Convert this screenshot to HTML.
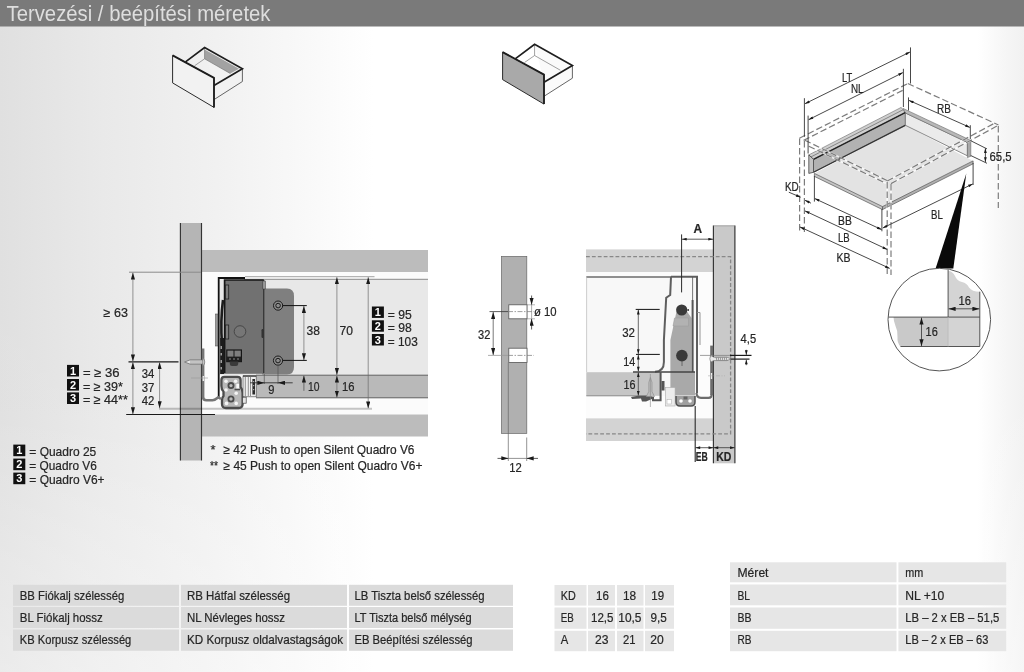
<!DOCTYPE html>
<html><head><meta charset="utf-8">
<style>
html,body{margin:0;padding:0;background:#fff;}
body{width:1024px;height:672px;overflow:hidden;font-family:"Liberation Sans",sans-serif;}
svg{display:block;will-change:transform;filter:grayscale(1)}
text{font-family:"Liberation Sans",sans-serif;fill:#262626;stroke:#262626;stroke-width:0.22px}
.d{stroke:#333;stroke-width:0.8;fill:none}
.dl{stroke:#777;stroke-width:0.8;fill:none}
.ah{fill:#222;stroke:none}
.dash{stroke:#808080;stroke-width:1;fill:none;stroke-dasharray:5 2.5}
</style></head><body>
<svg width="1024" height="672" viewBox="0 0 1024 672">
<defs>
<linearGradient id="bg" x1="0" x2="1" y1="0" y2="0">
<stop offset="0" stop-color="#e0e0e0"/>
<stop offset="0.1" stop-color="#e9e9e9"/>
<stop offset="0.2" stop-color="#f0f0f0"/>
<stop offset="0.29" stop-color="#f8f8f8"/>
<stop offset="0.365" stop-color="#ffffff"/>
<stop offset="0.955" stop-color="#ffffff"/>
<stop offset="0.975" stop-color="#f8f8f8"/>
<stop offset="1" stop-color="#f1f1f1"/>
</linearGradient>
<linearGradient id="bgv" x1="0" x2="0" y1="0" y2="1">
<stop offset="0" stop-color="#fff" stop-opacity="0"/>
<stop offset="0.6" stop-color="#fff" stop-opacity="0.02"/>
<stop offset="0.8" stop-color="#fff" stop-opacity="0.2"/>
<stop offset="1" stop-color="#fff" stop-opacity="0.36"/>
</linearGradient>
<marker id="ar" viewBox="0 0 10 6" refX="10" refY="3" markerWidth="7" markerHeight="4.2" orient="auto-start-reverse" markerUnits="userSpaceOnUse"><path d="M0,0 L10,3 L0,6 z" fill="#1a1a1a"/></marker>
<marker id="as" viewBox="0 0 10 6" refX="10" refY="3" markerWidth="6" markerHeight="2.8" orient="auto-start-reverse" markerUnits="userSpaceOnUse"><path d="M0,0 L10,3 L0,6 z" fill="#1a1a1a"/></marker>
</defs>
<rect x="0" y="0" width="1024" height="672" fill="url(#bg)"/>
<rect x="0" y="0" width="1024" height="672" fill="url(#bgv)"/>
<!-- HEADER -->
<rect x="0" y="0" width="1024" height="26.5" fill="#7a7a7a"/>
<text x="6.5" y="20.5" font-size="21.5" style="fill:#dedede;stroke:none" textLength="264" lengthAdjust="spacingAndGlyphs">Tervezési / beépítési méretek</text>
<!-- TABLES -->
<g id="tables">
<g fill="#dbdbdb">
<rect x="13" y="584.8" width="166" height="21"/><rect x="181" y="584.8" width="166" height="21"/><rect x="349" y="584.8" width="164" height="21"/>
<rect x="13" y="607" width="166" height="21"/><rect x="181" y="607" width="166" height="21"/><rect x="349" y="607" width="164" height="21"/>
<rect x="13" y="629.5" width="166" height="21.3"/><rect x="181" y="629.5" width="166" height="21.3"/><rect x="349" y="629.5" width="164" height="21.3"/>
</g>
<g font-size="13.3">
<text x="19.8" y="599.7" textLength="104.5" lengthAdjust="spacingAndGlyphs">BB Fiókalj szélesség</text>
<text x="19.8" y="621.5" textLength="83" lengthAdjust="spacingAndGlyphs">BL Fiókalj hossz</text>
<text x="19.8" y="643.7" textLength="111.5" lengthAdjust="spacingAndGlyphs">KB Korpusz szélesség</text>
<text x="187" y="599.7" textLength="103" lengthAdjust="spacingAndGlyphs">RB Hátfal szélesség</text>
<text x="187" y="621.5" textLength="98" lengthAdjust="spacingAndGlyphs">NL Névleges hossz</text>
<text x="187" y="643.7" textLength="156" lengthAdjust="spacingAndGlyphs">KD Korpusz oldalvastagságok</text>
<text x="354.5" y="599.7" textLength="130" lengthAdjust="spacingAndGlyphs">LB Tiszta belső szélesség</text>
<text x="354.5" y="621.5" textLength="117" lengthAdjust="spacingAndGlyphs">LT Tiszta belső mélység</text>
<text x="354.5" y="643.7" textLength="118" lengthAdjust="spacingAndGlyphs">EB Beépítési szélesség</text>
</g>
<!-- table 2 -->
<g fill="#e6e6e6">
<rect x="554.5" y="585" width="32" height="20.6"/><rect x="588" y="585" width="27" height="20.6"/><rect x="617" y="585" width="26.5" height="20.6"/><rect x="645" y="585" width="29" height="20.6"/>
<rect x="554.5" y="607.5" width="32" height="21.3"/><rect x="588" y="607.5" width="27" height="21.3"/><rect x="617" y="607.5" width="26.5" height="21.3"/><rect x="645" y="607.5" width="29" height="21.3"/>
<rect x="554.5" y="630.8" width="32" height="20.4"/><rect x="588" y="630.8" width="27" height="20.4"/><rect x="617" y="630.8" width="26.5" height="20.4"/><rect x="645" y="630.8" width="29" height="20.4"/>
</g>
<g font-size="13.3">
<text x="560.8" y="599.7" textLength="15" lengthAdjust="spacingAndGlyphs">KD</text>
<text x="560.8" y="621.8" textLength="13" lengthAdjust="spacingAndGlyphs">EB</text>
<text x="560.8" y="643.9" textLength="7.5" lengthAdjust="spacingAndGlyphs">A</text>
<text x="596" y="599.7" textLength="12.8" lengthAdjust="spacingAndGlyphs">16</text>
<text x="623" y="599.7" textLength="13.2" lengthAdjust="spacingAndGlyphs">18</text>
<text x="651.3" y="599.7" textLength="12.8" lengthAdjust="spacingAndGlyphs">19</text>
<text x="591" y="621.8" textLength="22.5" lengthAdjust="spacingAndGlyphs">12,5</text>
<text x="618.3" y="621.8" textLength="23.2" lengthAdjust="spacingAndGlyphs">10,5</text>
<text x="650.4" y="621.8" textLength="16.3" lengthAdjust="spacingAndGlyphs">9,5</text>
<text x="595" y="643.9" textLength="13.5" lengthAdjust="spacingAndGlyphs">23</text>
<text x="623" y="643.9" textLength="12.5" lengthAdjust="spacingAndGlyphs">21</text>
<text x="650.3" y="643.9" textLength="13.5" lengthAdjust="spacingAndGlyphs">20</text>
</g>
<!-- table 3 -->
<g fill="#e6e6e6">
<rect x="730" y="562.3" width="166.5" height="20"/><rect x="898.4" y="562.3" width="107.8" height="20"/>
<rect x="730" y="584.5" width="166.5" height="20.8"/><rect x="898.4" y="584.5" width="107.8" height="20.8"/>
<rect x="730" y="607.5" width="166.5" height="21.3"/><rect x="898.4" y="607.5" width="107.8" height="21.3"/>
<rect x="730" y="630.8" width="166.5" height="20.4"/><rect x="898.4" y="630.8" width="107.8" height="20.4"/>
</g>
<g font-size="13.3">
<text x="737.5" y="577" textLength="31" lengthAdjust="spacingAndGlyphs">Méret</text>
<text x="737.5" y="599.7" textLength="12.5" lengthAdjust="spacingAndGlyphs">BL</text>
<text x="737.5" y="621.8" textLength="14" lengthAdjust="spacingAndGlyphs">BB</text>
<text x="737.5" y="643.9" textLength="14" lengthAdjust="spacingAndGlyphs">RB</text>
<text x="905.3" y="577" textLength="18" lengthAdjust="spacingAndGlyphs">mm</text>
<text x="905.3" y="599.7" textLength="39" lengthAdjust="spacingAndGlyphs">NL +10</text>
<text x="905.3" y="621.8" textLength="94" lengthAdjust="spacingAndGlyphs">LB – 2 x EB – 51,5</text>
<text x="905.3" y="643.9" textLength="83" lengthAdjust="spacingAndGlyphs">LB – 2 x EB – 63</text>
</g>
</g>

<!-- LEFT CROSS SECTION -->
<g id="leftsec">
<!-- cabinet bands -->
<rect x="201.6" y="250" width="226.4" height="22" fill="#bcbcbc"/>
<rect x="201.6" y="414" width="226.4" height="22.5" fill="#bcbcbc"/>
<!-- white gap areas -->
<rect x="201.6" y="272" width="226.4" height="142.5" fill="#fbfbfb"/>
<!-- drawer interior -->
<rect x="219" y="279.3" width="209" height="96" fill="#e8e8e8"/>
<line x1="244" y1="279.3" x2="428" y2="279.3" stroke="#8a8a8a" stroke-width="1"/>
<!-- drawer bottom -->
<rect x="256" y="375.2" width="172" height="22.6" fill="#b9b9b9"/>
<line x1="256" y1="375.2" x2="428" y2="375.2" stroke="#555" stroke-width="0.9"/>
<line x1="256" y1="397.8" x2="428" y2="397.8" stroke="#555" stroke-width="0.9"/>
<!-- lower light line -->
<!-- vertical panel -->
<rect x="180.3" y="223" width="21.3" height="237.5" fill="#b5b5b5"/>
<line x1="180.4" y1="223" x2="180.4" y2="460.5" stroke="#333" stroke-width="1.15"/>
<line x1="201.5" y1="223" x2="201.5" y2="460.5" stroke="#333" stroke-width="1.15"/>
<line x1="159" y1="408.8" x2="372" y2="408.8" stroke="#000" stroke-opacity="0.22" stroke-width="1.9"/>
<!-- L line -->
<path d="M218.7,397 V278 H245" stroke="#111" stroke-width="1.8" fill="none"/>
<!-- plate -->
<path d="M262,288.5 H287 Q294,288.5 294,296 V367 Q294,374.5 287,374.5 H262 Z" fill="#7f7f7f"/>
<!-- dark box -->
<rect x="224.4" y="280" width="39.4" height="93.8" fill="#717171"/>
<path d="M224.6,373 V280 H263.8" stroke="#161616" stroke-width="1.7" fill="none"/>
<path d="M263.8,280 V373" stroke="#222" stroke-width="1" fill="none"/>
<rect x="225.5" y="285" width="3.2" height="14" fill="#7c7c7c" stroke="#222" stroke-width="0.8"/>
<rect x="225.5" y="325" width="3.2" height="14" fill="#7c7c7c" stroke="#222" stroke-width="0.8"/>
<path d="M223,300 Q220.3,320 222,345" stroke="#1c1c1c" stroke-width="2.6" fill="none"/>
<rect x="215.5" y="314" width="2.4" height="32" fill="#9a9a9a" stroke="#444" stroke-width="0.5"/>
<circle cx="240" cy="331.5" r="5.8" fill="#767676" stroke="#3c3c3c" stroke-width="0.8"/>
<rect x="261.5" y="329" width="2.5" height="9" rx="1.2" fill="#333"/>
<rect x="262.8" y="281" width="2.6" height="8" fill="#999" stroke="#333" stroke-width="0.5"/>
<!-- small mechanism inside box bottom -->
<g>
<rect x="226.8" y="350" width="14.6" height="11.6" fill="#7e7e7e" stroke="#161616" stroke-width="1.2"/>
<path d="M234,350 V357" stroke="#161616" stroke-width="1"/>
<rect x="226.8" y="356.6" width="14.6" height="5" fill="#1e1e1e"/>
<path d="M229,359 h2 M233,359 h2 M237,359 h2" stroke="#999" stroke-width="0.9"/>
<path d="M229.8,361.6 V364 Q229.8,366 232,366 H236 Q238.2,366 238.2,364 V361.6 Z" fill="#3a3a3a"/>
</g>
<path d="M222.2,338 V374" stroke="#1c1c1c" stroke-width="4.2"/>
<path d="M221.2,346 v3 M221.2,353 v2.5 M221.2,360 v3 M221.2,367 v2.5" stroke="#ddd" stroke-width="1"/>
<!-- screws on plate -->
<g>
<circle cx="278.1" cy="305.6" r="4.6" fill="#8c8c8c" stroke="#1a1a1a" stroke-width="1"/>
<circle cx="278.1" cy="305.6" r="2.3" fill="none" stroke="#1a1a1a" stroke-width="1"/>
<circle cx="278" cy="360.6" r="4.6" fill="#8c8c8c" stroke="#1a1a1a" stroke-width="1"/>
<circle cx="278" cy="360.6" r="2.3" fill="none" stroke="#1a1a1a" stroke-width="1"/>
</g>
<!-- runner -->
<g>
<path d="M224.5,376.8 H237.5 Q240.6,376.8 240.6,380 V387 Q242.6,389.5 242.6,393 V404 Q242.6,408 238.6,408 H226 Q222,408 222,404 V400 Q222,397.5 223.5,396 V391.5 Q221.4,389.5 221.4,386 V380 Q221.4,376.8 224.5,376.8 Z" fill="#b8b8b8" stroke="#4c4c4c" stroke-width="2.3"/>
<circle cx="226" cy="381.3" r="1.8" fill="#f4f4f4"/><circle cx="235.6" cy="381.3" r="1.8" fill="#f4f4f4"/>
<circle cx="226" cy="390" r="1.8" fill="#f4f4f4"/><circle cx="236.2" cy="393.3" r="1.8" fill="#f4f4f4"/>
<circle cx="226.5" cy="403.4" r="1.8" fill="#f4f4f4"/><circle cx="236.2" cy="403.4" r="1.8" fill="#f4f4f4"/>
<circle cx="231" cy="385.6" r="2.6" fill="#bbb" stroke="#4a4a4a" stroke-width="1.8"/>
<circle cx="231" cy="399" r="2.6" fill="#bbb" stroke="#4a4a4a" stroke-width="1.8"/>
<path d="M234.5,389.5 H240" stroke="#4c4c4c" stroke-width="1.6"/>
<rect x="236.3" y="383.8" width="2.8" height="4.6" fill="#f8f8f8"/>
</g>
<!-- piece between runner and drawer bottom -->
<g>
<rect x="243" y="376" width="13.2" height="20.8" fill="#efefef" stroke="#555" stroke-width="0.7"/>
<path d="M245.3,377 V396 M248.3,377 V396 M250.5,377 V396" stroke="#666" stroke-width="0.7"/>
<rect x="252.4" y="379" width="2.6" height="15.5" fill="#2a2a2a"/>
<path d="M253.7,381 v1.2 M253.7,385 v1.2 M253.7,389 v1.2" stroke="#ddd" stroke-width="0.9"/>
<path d="M243,376 H256.2" stroke="#222" stroke-width="1.1"/>
<rect x="242.6" y="397.2" width="3.6" height="6" fill="#e4e4e4" stroke="#444" stroke-width="0.7"/>
</g>
<!-- bracket -->
<path d="M203.1,348.5 V397 Q203.1,400.2 206.5,400.2 H212.5 Q215,400.2 216.3,398.6 L218.3,397.2 L221,399" stroke="#757575" stroke-width="2.6" fill="none"/>
<path d="M203.3,358.5 V365.5 M203.3,376 V381" stroke="#f2f2f2" stroke-width="1.3"/>
<!-- screw in panel -->
<g>
<path d="M184.6,362 L190,359.9 H203 V364.1 H190 Z" fill="#e4e4e4" stroke="#666" stroke-width="0.7"/>
<path d="M191,360.2 V363.8 M193,360.2 V363.8 M195,360.2 V363.8 M197,360.2 V363.8 M199,360.2 V363.8 M201,360.2 V363.8" stroke="#777" stroke-width="0.6"/>
<path d="M203,358 Q206.5,362 203,366 Z" fill="#f4f4f4" stroke="#666" stroke-width="0.7"/>
<line x1="191" y1="378" x2="208" y2="378" stroke="#999" stroke-width="0.6"/>
</g>
</g>

<!-- LEFT DIMENSIONS -->
<g id="leftdim">
<!-- ext lines -->
<line x1="129" y1="272.2" x2="201" y2="272.2" stroke="#8a8a8a" stroke-width="1"/>
<line x1="128.5" y1="361.8" x2="178.5" y2="361.8" stroke="#1a1a1a" stroke-width="1.2"/>
<line x1="126.2" y1="414.5" x2="215" y2="414.5" stroke="#1a1a1a" stroke-width="1.2"/>
<line x1="245" y1="276.7" x2="374.5" y2="276.7" stroke="#8a8a8a" stroke-width="0.8"/>
<g stroke="#6a6a6a" stroke-width="0.7" marker-start="url(#ar)" marker-end="url(#ar)">
<line x1="132.9" y1="272.6" x2="132.9" y2="361.4"/>
<line x1="132.9" y1="362.2" x2="132.9" y2="414.2"/>
<line x1="159.6" y1="362.2" x2="159.6" y2="408.2"/>
<line x1="303.9" y1="305.9" x2="303.9" y2="360.2"/>
<line x1="336.9" y1="277.2" x2="336.9" y2="375"/>
<line x1="336.9" y1="375.6" x2="336.9" y2="397.6"/>
<line x1="368.2" y1="277.2" x2="368.2" y2="408.4"/>
</g>
<line x1="303.9" y1="390.8" x2="303.9" y2="375.6" stroke="#555" stroke-width="0.8" marker-end="url(#ar)"/>
<!-- screw leader lines -->
<line x1="282.5" y1="305.6" x2="306.8" y2="305.6" stroke="#111" stroke-width="1"/>
<line x1="282.5" y1="360.4" x2="306.8" y2="360.4" stroke="#111" stroke-width="1"/>
<!-- 9 dim -->
<line x1="264.3" y1="374" x2="264.3" y2="384" stroke="#555" stroke-width="0.7"/>
<line x1="278" y1="365" x2="278" y2="384" stroke="#555" stroke-width="0.7"/>
<line x1="250" y1="382.8" x2="264.3" y2="382.8" stroke="#333" stroke-width="0.9" marker-end="url(#ar)"/>
<line x1="292.7" y1="382.8" x2="278" y2="382.8" stroke="#333" stroke-width="0.9" marker-end="url(#ar)"/>
<line x1="264" y1="382.8" x2="278" y2="382.8" stroke="#333" stroke-width="0.9"/>
<!-- texts -->
<g font-size="12.6">
<text x="103.6" y="317.4" textLength="24.3" lengthAdjust="spacingAndGlyphs">≥ 63</text>
<text x="141.8" y="378.1" textLength="12.6" lengthAdjust="spacingAndGlyphs">34</text>
<text x="141.8" y="391.5" textLength="12.6" lengthAdjust="spacingAndGlyphs">37</text>
<text x="141.8" y="405" textLength="12.6" lengthAdjust="spacingAndGlyphs">42</text>
<text x="306.6" y="334.5" textLength="13.4" lengthAdjust="spacingAndGlyphs">38</text>
<text x="339.6" y="334.5" textLength="13.4" lengthAdjust="spacingAndGlyphs">70</text>
<text x="308" y="391" textLength="11.5" lengthAdjust="spacingAndGlyphs">10</text>
<text x="342" y="391" textLength="12.5" lengthAdjust="spacingAndGlyphs">16</text>
<text x="268.3" y="394.3" textLength="6.2" lengthAdjust="spacingAndGlyphs">9</text>
<text x="387.8" y="318.6" textLength="24" lengthAdjust="spacingAndGlyphs">= 95</text>
<text x="387.8" y="332.3" textLength="24" lengthAdjust="spacingAndGlyphs">= 98</text>
<text x="387.8" y="346.2" textLength="30" lengthAdjust="spacingAndGlyphs">= 103</text>
<text x="82.9" y="377.1" textLength="36.7" lengthAdjust="spacingAndGlyphs">= ≥ 36</text>
<text x="82.9" y="390.8" textLength="40" lengthAdjust="spacingAndGlyphs">= ≥ 39*</text>
<text x="82.9" y="404.3" textLength="45" lengthAdjust="spacingAndGlyphs">= ≥ 44**</text>
<text x="29.3" y="456" textLength="67" lengthAdjust="spacingAndGlyphs">= Quadro 25</text>
<text x="29.3" y="470" textLength="67.5" lengthAdjust="spacingAndGlyphs">= Quadro V6</text>
<text x="29.3" y="484" textLength="75.3" lengthAdjust="spacingAndGlyphs">= Quadro V6+</text>
<text x="210.5" y="453.5" textLength="5" lengthAdjust="spacingAndGlyphs">*</text>
<text x="223.5" y="453.5" textLength="191" lengthAdjust="spacingAndGlyphs">≥ 42 Push to open Silent Quadro V6</text>
<text x="210" y="469.5" textLength="8" lengthAdjust="spacingAndGlyphs">**</text>
<text x="223.5" y="469.5" textLength="199" lengthAdjust="spacingAndGlyphs">≥ 45 Push to open Silent Quadro V6+</text>
</g>
<!-- numbered squares -->
<g fill="#111">
<rect x="371.9" y="306.5" width="12" height="11.4"/><rect x="371.9" y="320.3" width="12" height="11.4"/><rect x="371.9" y="334" width="12" height="11.5"/>
<rect x="67" y="364.9" width="12" height="11.6"/><rect x="67" y="379" width="12" height="11.6"/><rect x="67" y="392.4" width="12" height="11.6"/>
<rect x="13.3" y="444.6" width="12" height="11.6"/><rect x="13.3" y="458.6" width="12" height="11.6"/><rect x="13.3" y="472.6" width="12" height="11.6"/>
</g>
<g font-size="11" font-weight="bold" text-anchor="middle" style="fill:#fff;stroke:none">
<text x="377.9" y="316.2" style="fill:#fff;stroke:none">1</text><text x="377.9" y="330" style="fill:#fff;stroke:none">2</text><text x="377.9" y="343.8" style="fill:#fff;stroke:none">3</text>
<text x="73" y="374.7" style="fill:#fff;stroke:none">1</text><text x="73" y="388.8" style="fill:#fff;stroke:none">2</text><text x="73" y="402.2" style="fill:#fff;stroke:none">3</text>
<text x="19.3" y="454.4" style="fill:#fff;stroke:none">1</text><text x="19.3" y="468.4" style="fill:#fff;stroke:none">2</text><text x="19.3" y="482.4" style="fill:#fff;stroke:none">3</text>
</g>
</g>

<!-- MIDDLE PANEL -->
<g id="mid">
<rect x="501.5" y="256.4" width="25.3" height="177" fill="#b0b0b0" stroke="#666" stroke-width="0.7"/>
<rect x="508.8" y="304.8" width="18.2" height="14" fill="#fff" stroke="#555" stroke-width="0.8"/>
<rect x="508.8" y="348.2" width="18.2" height="14.3" fill="#fff" stroke="#555" stroke-width="0.8"/>
<line x1="489.5" y1="311.6" x2="508" y2="311.6" stroke="#333" stroke-width="0.8"/>
<line x1="508" y1="311.6" x2="534" y2="311.6" stroke="#777" stroke-width="0.7" stroke-dasharray="5 1.5 1.5 1.5"/>
<line x1="488" y1="355.4" x2="508" y2="355.4" stroke="#999" stroke-width="0.8"/>
<line x1="508" y1="355.4" x2="534" y2="355.4" stroke="#777" stroke-width="0.7" stroke-dasharray="5 1.5 1.5 1.5"/>
<line x1="493.2" y1="312" x2="493.2" y2="355" stroke="#555" stroke-width="0.8" marker-start="url(#ar)" marker-end="url(#ar)"/>
<!-- dia 10 -->
<line x1="527" y1="304.8" x2="535" y2="304.8" stroke="#888" stroke-width="0.6"/>
<line x1="527" y1="318.8" x2="535" y2="318.8" stroke="#888" stroke-width="0.6"/>
<line x1="531.6" y1="295.5" x2="531.6" y2="304.8" stroke="#333" stroke-width="0.8" marker-end="url(#ar)"/>
<line x1="531.6" y1="329.5" x2="531.6" y2="318.8" stroke="#333" stroke-width="0.8" marker-end="url(#ar)"/>
<line x1="531.6" y1="304.8" x2="531.6" y2="318.8" stroke="#888" stroke-width="0.7"/>
<!-- 12 -->
<line x1="508.3" y1="362.5" x2="508.3" y2="461" stroke="#666" stroke-width="0.7"/>
<line x1="526.7" y1="437.5" x2="526.7" y2="461" stroke="#666" stroke-width="0.7"/>
<line x1="497.5" y1="458.4" x2="508.3" y2="458.4" stroke="#333" stroke-width="0.8" marker-end="url(#ar)"/>
<line x1="538" y1="458.4" x2="526.7" y2="458.4" stroke="#333" stroke-width="0.8" marker-end="url(#ar)"/>
<line x1="508.3" y1="458.4" x2="526.7" y2="458.4" stroke="#666" stroke-width="0.7"/>
<g font-size="12.6">
<text x="478" y="339.3" textLength="12.3" lengthAdjust="spacingAndGlyphs">32</text>
<text x="534" y="315.6" textLength="22.6" lengthAdjust="spacingAndGlyphs">ø 10</text>
<text x="509.3" y="472.4" textLength="12.5" lengthAdjust="spacingAndGlyphs">12</text>
</g>
</g>

<!-- RIGHT CROSS SECTION -->
<g id="rightsec">
<rect x="586" y="249.4" width="127.3" height="22.6" fill="#d3d3d3"/>
<rect x="586" y="418.2" width="127.3" height="22.8" fill="#d3d3d3"/>
<rect x="586" y="272" width="127.3" height="146.2" fill="#fcfcfc"/>
<rect x="586" y="277" width="111" height="119" fill="#f8f8f8"/>
<!-- right vertical panel -->
<rect x="713.3" y="225.6" width="21.8" height="237.7" fill="#c9c9c9"/>
<line x1="713.4" y1="225.6" x2="713.4" y2="463.3" stroke="#333" stroke-width="1.15"/>
<line x1="734.9" y1="225.6" x2="734.9" y2="463.3" stroke="#333" stroke-width="1.15"/>
<line x1="713.4" y1="225.8" x2="734.9" y2="225.8" stroke="#8a8a8a" stroke-width="0.7"/>
<!-- dashed -->
<path d="M586,256.6 H730.6 V433.8 H586" fill="none" stroke-dasharray="3.8 2.1" style="stroke:#888;stroke-width:1.3"/>
<!-- drawer bottom -->
<rect x="586.3" y="372.2" width="74.3" height="23.6" fill="#c5c5c5"/>
<line x1="586.3" y1="395.8" x2="652" y2="395.8" stroke="#777" stroke-width="0.8"/>
<!-- drawer outline top -->
<line x1="586.3" y1="276.9" x2="671" y2="276.9" stroke="#6c6c6c" stroke-width="1.5"/>
<line x1="586.6" y1="277" x2="586.6" y2="372" stroke="#bbb" stroke-width="0.7"/>
<!-- body -->
<path d="M676.5,311.5 Q681.5,304 687,311.5 L691.5,318 V372 H695 V395.5 H670.4 V340 Z" fill="#a9a9a9"/>
<path d="M674.5,318 H688.5 V326 H673 Z" fill="#b2b2b2" stroke="#999" stroke-width="0.5"/>
<!-- profile outline -->
<path d="M671,276.7 H697 V393" stroke="#5e5e5e" stroke-width="2" fill="none"/>
<path d="M671,276.7 L670.2,295 L666.2,297.8 L663.9,340 V362 Q663.9,371.5 655,371.8" stroke="#5e5e5e" stroke-width="2" fill="none"/>
<line x1="692.6" y1="277" x2="692.6" y2="300" stroke="#555" stroke-width="0.8"/>
<line x1="692.6" y1="300" x2="692.6" y2="372" stroke="#555" stroke-width="2"/>
<path d="M697,312.5 H700 V345" stroke="#8a8a8a" stroke-width="0.9" fill="none"/>
<!-- horizontal dark line -->
<line x1="633" y1="371.9" x2="695" y2="371.9" stroke="#444" stroke-width="1.5"/>
<!-- screw heads -->
<circle cx="681.7" cy="310" r="5.6" fill="#3a3a3a"/>
<circle cx="681.9" cy="355.6" r="5.8" fill="#3a3a3a"/>
<path d="M686,310 l3,-1 v2 z" fill="#333"/>
<line x1="682" y1="361" x2="682" y2="366" stroke="#555" stroke-width="0.8"/>
<!-- drawer bottom end/hook -->
<path d="M660.6,372 V400.3 H653 V397" stroke="#555" stroke-width="2" fill="none"/>
<rect x="661.5" y="381" width="3" height="9.5" fill="#555"/>
<path d="M631,397 L638,395.8 H652 V399 L646,401.5 H642 L641,398.5 L632,399 Z" fill="#555"/>
<!-- small screw in bottom -->
<path d="M650.4,377.5 l-1.6,5 v9 l-2.5,5 h8.2 l-2.5,-5 v-9 z" fill="#bdbdbd" stroke="#8a8a8a" stroke-width="0.6"/>
<line x1="650.4" y1="374" x2="650.4" y2="407" stroke="#8a8a8a" stroke-width="0.6"/>
<!-- runner -->
<rect x="665.6" y="387.5" width="9.5" height="18.5" fill="#ececec" stroke="#aaa" stroke-width="0.6"/>
<rect x="667" y="399.5" width="4.5" height="4.5" fill="#fff" stroke="#aaa" stroke-width="0.5"/>
<path d="M676,396 V402 Q676,406 680,406 H691 Q695,406 695,402 V396" fill="#a0a0a0" stroke="#505050" stroke-width="1.5"/>
<circle cx="681" cy="401" r="1.8" fill="#fff"/><circle cx="690" cy="401" r="1.8" fill="#fff"/>
<rect x="683.5" y="396.5" width="4" height="3" fill="#666"/>
<!-- right bracket -->
<path d="M696.5,393 Q696.8,397.8 701,397.9 H708.5 Q711.8,397.8 711.8,394" stroke="#6c6c6c" stroke-width="2.2" fill="none"/>
<path d="M711.7,395 V345.6" stroke="#6c6c6c" stroke-width="3" fill="none"/>
<line x1="711.5" y1="355" x2="711.5" y2="362" stroke="#eee" stroke-width="1.3"/>
<line x1="711.5" y1="373" x2="711.5" y2="379" stroke="#eee" stroke-width="1.3"/>
<!-- screw into panel -->
<path d="M710.6,355.6 Q709,358.7 710.6,361.9 L714,360.6 H727 L731,358.9 L727,357.2 H714 Z" fill="#eaeaea" stroke="#666" stroke-width="0.6"/>
<path d="M716,357.2 l1,3.4 M718,357.2 l1,3.4 M720,357.2 l1,3.4 M722,357.2 l1,3.4 M724,357.2 l1,3.4 M726,357.2 l1,3.4" stroke="#555" stroke-width="0.6"/>
<line x1="708" y1="375.8" x2="725" y2="375.8" stroke="#aaa" stroke-width="0.6" stroke-dasharray="4 1.5 1 1.5"/>
</g>
<!-- RIGHT DIMS -->
<g id="rightdim">
<line x1="681.6" y1="234.4" x2="681.6" y2="292.4" stroke="#2a2a2a" stroke-width="1"/>
<line x1="682" y1="239.2" x2="713" y2="239.2" stroke="#333" stroke-width="0.8" marker-start="url(#as)" marker-end="url(#as)"/>
<line x1="635.7" y1="309.4" x2="659.7" y2="309.4" stroke="#111" stroke-width="1"/>
<line x1="636" y1="354.4" x2="659.8" y2="354.4" stroke="#111" stroke-width="1"/>
<g stroke="#444" stroke-width="0.8" marker-start="url(#as)" marker-end="url(#as)">
<line x1="638.3" y1="309.8" x2="638.3" y2="354"/>
<line x1="638.3" y1="354.8" x2="638.3" y2="371.4"/>
<line x1="638.3" y1="372.4" x2="638.3" y2="395.6"/>
</g>
<!-- 4,5 -->
<line x1="700" y1="355.4" x2="731" y2="355.4" stroke="#777" stroke-width="0.7"/>
<line x1="730" y1="355.4" x2="751.5" y2="355.4" stroke="#1a1a1a" stroke-width="1.2"/>
<line x1="730.5" y1="359.1" x2="749.5" y2="359.1" stroke="#1a1a1a" stroke-width="1.2"/>
<line x1="746.3" y1="349.8" x2="746.3" y2="354.9" stroke="#333" stroke-width="0.8" marker-end="url(#as)"/>
<line x1="746.3" y1="365.2" x2="746.3" y2="359.7" stroke="#333" stroke-width="0.8" marker-end="url(#as)"/>
<!-- EB KD -->
<line x1="695.2" y1="406" x2="695.2" y2="462" stroke="#2a2a2a" stroke-width="1.1"/>
<line x1="695.5" y1="447.7" x2="713.2" y2="447.7" stroke="#333" stroke-width="0.8" marker-start="url(#as)" marker-end="url(#as)"/>
<line x1="713.6" y1="447.7" x2="734.7" y2="447.7" stroke="#333" stroke-width="0.8" marker-start="url(#as)" marker-end="url(#as)"/>
<g font-size="12.6">
<text x="693.6" y="232.9" font-weight="bold" textLength="8.6" lengthAdjust="spacingAndGlyphs">A</text>
<text x="622.2" y="336.5" textLength="12.8" lengthAdjust="spacingAndGlyphs">32</text>
<text x="623.2" y="365.8" textLength="12" lengthAdjust="spacingAndGlyphs">14</text>
<text x="623.5" y="388.6" textLength="12" lengthAdjust="spacingAndGlyphs">16</text>
<text x="740.6" y="343.3" textLength="15.5" lengthAdjust="spacingAndGlyphs">4,5</text>
<text x="695.8" y="460.8" font-weight="bold" textLength="12" lengthAdjust="spacingAndGlyphs">EB</text>
<text x="716.2" y="460.8" font-weight="bold" textLength="15.2" lengthAdjust="spacingAndGlyphs">KD</text>
</g>
</g>

<!-- DRAWER ICONS -->
<g id="icon1">
<path d="M204.6,47.4 L242.4,68.8 V81.5 L214,99.6 V85.5 Z" fill="#f2f2f2"/>
<path d="M204.6,49.5 L239,68.8 L230.3,73.5 L204.6,58.8 Z" fill="#a2a2a2"/>
<path d="M204.6,58.8 L194.5,65.8 M204.6,58.8 L230.3,73.5 M204.6,48 V58.8" stroke="#777" stroke-width="0.7" fill="none"/>
<path d="M242.4,68.8 V81.5 L214,99.6" stroke="#555" stroke-width="0.9" fill="none"/>
<path d="M185.5,61.9 L204.6,47.6 L242.4,68.8 L214,85.5" stroke="#1e1e1e" stroke-width="1.7" fill="none" stroke-linejoin="miter"/>
<path d="M172.6,55.4 L214,77.9 V107.4 L172.6,82.9 Z" fill="#f2f2f2" stroke="#2a2a2a" stroke-width="1"/>
<path d="M172.6,55.4 L214,77.9 V107.4" stroke="#1e1e1e" stroke-width="1.8" fill="none"/>
</g>
<g id="icon2" transform="translate(330,-3.3)">
<path d="M204.6,47.4 L242.4,68.8 V81.5 L214,99.6 V85.5 Z" fill="#fafafa"/>
<path d="M204.6,58.8 L194.5,65.8 M204.6,58.8 L230.3,73.5 M204.6,48 V58.8" stroke="#777" stroke-width="0.7" fill="none"/>
<path d="M242.4,68.8 V81.5 L214,99.6" stroke="#555" stroke-width="0.9" fill="none"/>
<path d="M185.5,61.9 L204.6,47.6 L242.4,68.8 L214,85.5" stroke="#1e1e1e" stroke-width="1.7" fill="none" stroke-linejoin="miter"/>
<path d="M172.6,55.4 L214,77.9 V107.4 L172.6,82.9 Z" fill="#a9a9a9" stroke="#2a2a2a" stroke-width="1"/>
<path d="M172.6,55.4 L214,77.9 V107.4" stroke="#1e1e1e" stroke-width="1.8" fill="none"/>
</g>
<!-- ISOMETRIC -->
<g id="iso">
<!-- drawer bottom -->
<path d="M905.2,125.2 L973.1,160.9 L882.5,206.6 L814.4,173.4 Z" fill="#e3e3e3"/>
<path d="M814.4,173.4 L882.5,206.6 V209.6 L814.4,176.4 Z" fill="#c4c4c4" stroke="#555" stroke-width="0.7"/>
<path d="M882.5,206.6 L973.1,160.9 V163.8 L882.5,209.6 Z" fill="#b0b0b0" stroke="#555" stroke-width="0.7"/>
<!-- back panel -->
<path d="M905.2,112.9 L967.4,142.4 V155.8 L905.2,125.2 Z" fill="#ebebeb" stroke="#5a5a5a" stroke-width="0.7"/>
<path d="M903,108.4 L969.8,139.9 L967.4,142.4 L905.2,112.9 Z" fill="#b8b8b8" stroke="#666" stroke-width="0.6"/>
<path d="M967.4,142.4 L970.8,140.3 V156.3 L967.4,157.6 Z" fill="#a8a8a8" stroke="#666" stroke-width="0.6"/>
<!-- left side bar -->
<path d="M813.5,159.3 L905.2,112.6 V125.4 L813.5,172.3 Z" fill="#b2b2b2" stroke="#666" stroke-width="0.6"/>
<path d="M808.8,154.9 L901.2,107.4 L905.2,112.6 L813.5,159.3 Z" fill="#cfcfcf" stroke="#666" stroke-width="0.6"/>
<path d="M811,156.9 L903,109.8" stroke="#666" stroke-width="0.7"/>
<path d="M813.5,159.3 L905.2,112.6" stroke="#222" stroke-width="1.3"/>
<path d="M813.5,172.3 L905.2,125.4" stroke="#333" stroke-width="1.2"/>
<path d="M808.8,154.9 L813.5,159.3 V172.3 L808.8,173.4 Z" fill="#c4c4c4" stroke="#444" stroke-width="0.8"/>
<!-- dashed cabinet -->
<g stroke="#fff" stroke-width="1.8" fill="none" opacity="0.75">
<path d="M799.4,138.2 L907.8,83.5"/>
<path d="M803.6,140.4 L903,90.2"/>
<path d="M907.8,83.5 L998.5,125"/>
<path d="M887.2,181 L994.5,123.2"/>
<path d="M891,183.6 L998.5,125.2"/>
<path d="M804.8,140.2 L887,180.5"/>
<path d="M808.8,146.2 L885.8,183.2"/>
<path d="M799.6,138.5 V233"/>
<path d="M804.4,141 V232"/>
<path d="M887.2,182 V275"/>
<path d="M891,184 V275"/>
<path d="M998.3,126 V208"/>
</g>
<g stroke="#7c7c7c" stroke-width="1.2" fill="none" stroke-dasharray="6.5 3">
<path d="M799.4,138.2 L907.8,83.5"/>
<path d="M803.6,140.4 L903,90.2"/>
<path d="M907.8,83.5 L998.5,125"/>
<path d="M887.2,181 L994.5,123.2"/>
<path d="M891,183.6 L998.5,125.2"/>
<path d="M804.8,140.2 L887,180.5"/>
<path d="M808.8,146.2 L885.8,183.2"/>
<path d="M799.6,138.5 V233"/>
<path d="M804.4,141 V232"/>
<path d="M887.2,182 V275"/>
<path d="M891,184 V275"/>
<path d="M998.3,126 V208"/>
</g>
<!-- dim lines -->
<g stroke="#333" stroke-width="0.9" fill="none">
<path d="M804.4,98.2 V136.8 M910.5,47.4 V83.5 M808.1,115.6 V153.5 M903.4,68.8 V107 M908.5,97.4 V110.5 M970.3,125.2 V139.1 M970.7,140.7 L987,148.9 M970.7,155.5 L987,163.3 M814.4,176 V201.6 M881.9,209 V231.3 M973.1,163 V185"/>
<g marker-start="url(#as)" marker-end="url(#as)">
<path d="M805,103.7 L910,52"/>
<path d="M808.6,119.7 L902.9,72.6"/>
<path d="M909,100.4 L969.9,127.4"/>
<path d="M985.4,148.3 V162"/>
<path d="M814.8,198.6 L881.6,229.6"/>
<path d="M805,210.9 L887.2,249.4"/>
<path d="M799.9,226.9 L889.7,268.4"/>
<path d="M882.8,228 L972.8,183.9"/>
</g>
<path d="M788.8,192.2 L800.6,197.2" marker-end="url(#as)"/>
<path d="M811,203.2 L805,200.3" marker-end="url(#as)"/>
</g>
<g font-size="12.6">
<text x="842" y="82" textLength="10.2" lengthAdjust="spacingAndGlyphs">LT</text>
<text x="851" y="93.2" textLength="12.6" lengthAdjust="spacingAndGlyphs">NL</text>
<text x="937.1" y="112.6" textLength="13.9" lengthAdjust="spacingAndGlyphs">RB</text>
<text x="989.5" y="161.2" textLength="22.1" lengthAdjust="spacingAndGlyphs">65,5</text>
<text x="838.1" y="225" textLength="13.8" lengthAdjust="spacingAndGlyphs">BB</text>
<text x="838" y="241.6" textLength="11.7" lengthAdjust="spacingAndGlyphs">LB</text>
<text x="836.6" y="261.6" textLength="14" lengthAdjust="spacingAndGlyphs">KB</text>
<text x="931" y="219.4" textLength="11.8" lengthAdjust="spacingAndGlyphs">BL</text>
<text x="785" y="190.6" textLength="13.8" lengthAdjust="spacingAndGlyphs">KD</text>
</g>
<!-- callout -->
<path d="M966.3,173.4 L935.6,268.6 H953.3 Z" fill="#0a0a0a"/>
<circle cx="939.3" cy="319.6" r="51.3" fill="#fff" stroke="#555" stroke-width="1"/>
<clipPath id="cc"><circle cx="939.3" cy="319.6" r="50.8"/></clipPath>
<g clip-path="url(#cc)">
<path d="M948.1,270.8 Q953,271.5 955,276 Q957,281 962,282 Q967,283 969,287.5 Q972,291.7 979.8,291.7 V346.5 H948.1 Z" fill="#d4d4d4"/>
<path d="M893.5,317.1 H948.1 V346.5 H900.5 Q897,343 897.5,337 Q898,331 895.5,326 Q893.5,321 893.5,317.1 Z" fill="#c9c9c9"/>
<path d="M880,317.1 H979.8" stroke="#444" stroke-width="0.9"/>
<path d="M948.1,270 V317.1 M979.8,291.7 V346.5 H900.5" stroke="#444" stroke-width="0.9" fill="none"/>
<path d="M948.1,317.1 V346.5" stroke="#b4b4b4" stroke-width="0.7"/>
</g>
<line x1="948.6" y1="308.8" x2="979.4" y2="308.8" stroke="#333" stroke-width="0.8" marker-start="url(#ar)" marker-end="url(#ar)"/>
<line x1="921.5" y1="317.6" x2="921.5" y2="346.2" stroke="#333" stroke-width="0.8" marker-start="url(#ar)" marker-end="url(#ar)"/>
<g font-size="12.6">
<text x="958.5" y="305.3" textLength="12.5" lengthAdjust="spacingAndGlyphs">16</text>
<text x="925.6" y="335.5" textLength="12.2" lengthAdjust="spacingAndGlyphs">16</text>
</g>
</g>

<!--SECTIONS-->
</svg>
</body></html>
